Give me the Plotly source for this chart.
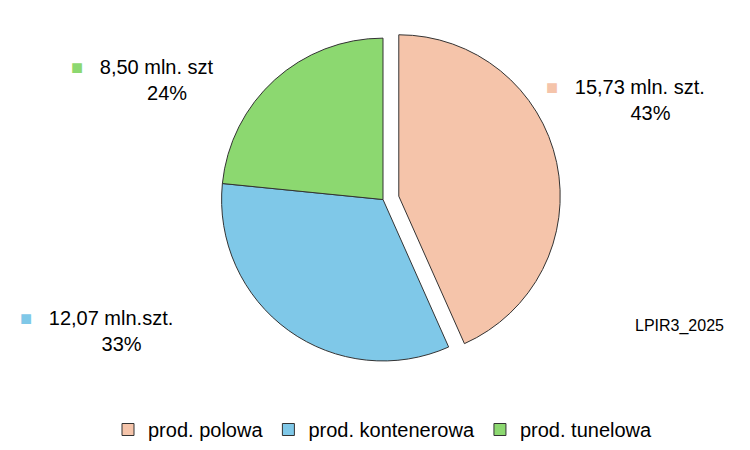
import plotly.graph_objects as go

categories = ["prod. polowa", "prod. kontenerowa", "prod. tunelowa"]
values = [15.73, 12.07, 8.50]
label_texts = ["15,73 mln. szt.<br>43%", "12,07 mln.szt.<br>33%", "8,50 mln. szt<br>24%"]
colors = ["#F5C4AA", "#7FC8E8", "#8CD870"]

fig = go.Figure(go.Pie(
    labels=categories, values=values, sort=False, direction="clockwise", rotation=0,
    marker=dict(colors=colors, line=dict(color="#333333", width=1)),
    pull=[0.1, 0, 0], textinfo="none", hoverinfo="label+value",
    domain=dict(x=[0.1, 0.9], y=[0.1, 0.99])
))

pos = [(0.72, 0.86), (0.0, 0.28), (0.07, 0.91)]
for (x, y), t, c in zip(pos, label_texts, colors):
    fig.add_annotation(x=x, y=y, xref="paper", yref="paper", xanchor="left", yanchor="top",
                       text=f"<span style='color:{c}'>■</span>   " + t.replace("<br>", "<br>         "),
                       showarrow=False, align="center", font=dict(size=20, color="#000"))
fig.add_annotation(x=0.97, y=0.2, xref="paper", yref="paper", xanchor="right",
                   text="LPIR3_2025", showarrow=False, font=dict(size=16, color="#000"))

fig.update_layout(
    width=750, height=450, margin=dict(l=10, r=10, t=10, b=40),
    paper_bgcolor="white", font=dict(family="Liberation Sans, Arial", size=20, color="#000"),
    legend=dict(orientation="h", x=0.5, xanchor="center", y=0.02, yanchor="top",
                font=dict(size=20))
)
fig.write_html("out.html")
